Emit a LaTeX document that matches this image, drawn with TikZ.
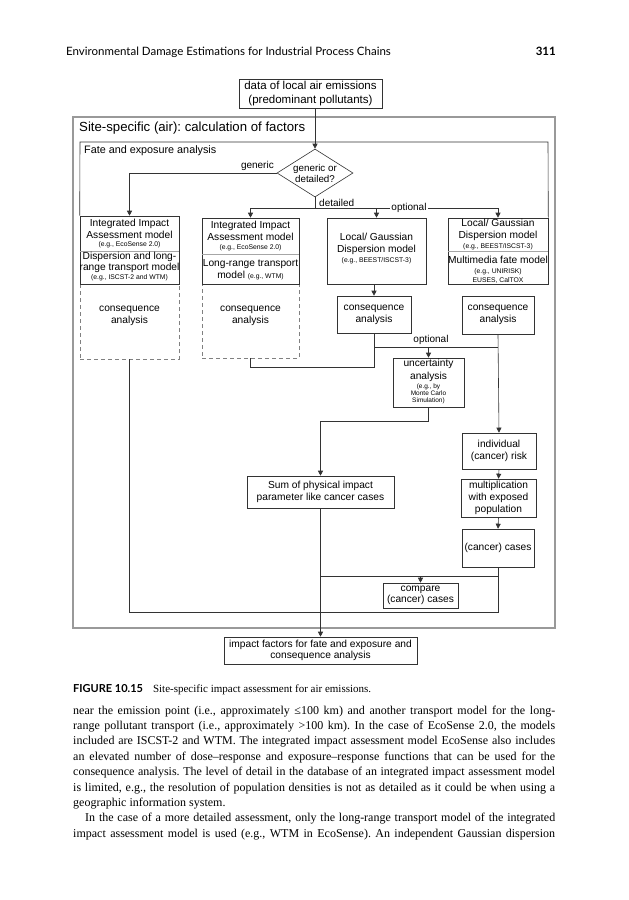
\documentclass[tikz,border=0pt]{standalone}
\usepackage{fontspec}
\setmainfont{Liberation Serif}
\newfontfamily\dfont{Liberation Sans}
\newfontfamily\hfont{Lato}
\usetikzlibrary{shapes.geometric,arrows.meta}
\newcommand{\fs}[2]{\fontsize{#1}{#2}\selectfont}
\newcommand{\smallf}{\fontsize{6.8}{8}\selectfont}
\frenchspacing
\begin{document}
\begin{tikzpicture}[x=1pt,y=-1pt,
  ln/.style={draw=black!80,line width=0.6pt},
  arr/.style={ln,-{Triangle[length=5pt,width=5pt]}},
  bx/.style={draw=black!80,line width=0.6pt,inner sep=0pt,align=center,font=\dfont\fs{10.2}{12}},
  dbx/.style={draw=black!50,line width=0.6pt,dash pattern=on 4pt off 3pt,inner sep=0pt},
  divl/.style={draw=black!35,line width=1.4pt},
  tx/.style={inner sep=0pt,align=center,font=\dfont\fs{10.2}{12}},
  sm/.style={inner sep=0pt,align=center,font=\dfont\fs{6.8}{8}},
  lbl/.style={inner sep=1pt,font=\dfont\fs{10}{12}},
  dia/.style={shape=diamond,draw=black!80,line width=0.6pt,inner sep=0pt,aspect=1.6,
     minimum width=76pt,minimum height=48pt,align=center,font=\dfont\fs{9.8}{11}}
]
\useasboundingbox (0,0) rectangle (629,900);
\fill[white] (0,0) rectangle (629,900);

% page header
\node[anchor=base west,inner sep=0pt,font=\hfont\fs{11.5}{13}] (hd) at (66,55) {Environmental Damage Estimations for Industrial Process Chains};
\node[anchor=base east,inner sep=0pt,font=\hfont\bfseries\fs{11.5}{13}] (pg) at (556,55) {311};

% frames
\node[draw=black!40,line width=1.4pt,minimum width=482pt,minimum height=511pt,inner sep=0pt] (outer) at (314,372.5) {};
\node[anchor=west,inner sep=0pt,font=\dfont\fs{13.2}{15}] (site) at (79,128) {Site-specific (air): calculation of factors};

\node[bx,minimum width=143pt,minimum height=29pt,font=\dfont\fs{11.5}{13.5}] (data) at (310.5,93.5) {data of local air emissions\\(predominant pollutants)};

% consequence (dashed) first so solid boxes lie on top
\node[dbx,minimum width=99pt,minimum height=75pt] (consA) at (129.5,321.5) {};
\node[dbx,minimum width=97pt,minimum height=74pt] (consB) at (250.5,321) {};
\node[tx] (tcA) at (129.5,316) {consequence\\analysis};
\node[tx] (tcB) at (250.5,316) {consequence\\analysis};

% model boxes
\node[bx,minimum width=99pt,minimum height=35pt] (A1) at (129.5,233.5) {};
\node[bx,minimum width=99pt,minimum height=33pt] (A2) at (129.5,267.5) {};
\node[bx,minimum width=97pt,minimum height=36pt] (B1) at (250.5,236) {};
\node[bx,minimum width=97pt,minimum height=30pt] (B2) at (250.5,269) {};
\node[bx,minimum width=99pt,minimum height=66pt] (C) at (376.5,251) {};
\node[bx,minimum width=100pt,minimum height=33pt] (D1) at (498,234.5) {};
\node[bx,minimum width=100pt,minimum height=33pt] (D2) at (498,267.5) {};
\draw[divl] (A1.south west) -- (A1.south east);
\draw[divl] (B1.south west) -- (B1.south east);
\draw[divl] (D1.south west) -- (D1.south east);

\node[tx] (tA1) at (129.5,229) {Integrated Impact\\Assessment model};
\node[sm] (sA1) at (129.5,244.5) {(e.g., EcoSense 2.0)};
\node[tx,font=\dfont\fs{10.2}{10.8}] (tA2) at (129.5,262) {Dispersion and long-\\range transport model};
\node[sm] (sA2) at (129.5,277.5) {(e.g., ISCST-2 and WTM)};
\node[tx] (tB1) at (250.5,231) {Integrated Impact\\Assessment model};
\node[sm] (sB1) at (250.5,247.5) {(e.g., EcoSense 2.0)};
\node[tx] (tB2) at (250.5,270) {Long-range transport\\model {\smallf (e.g., WTM)}};
\node[tx] (tC) at (376.5,244) {Local/ Gaussian\\Dispersion model};
\node[sm] (sC) at (376.5,260.5) {(e.g., BEEST/ISCST-3)};
\node[tx] (tD1) at (498,230) {Local/ Gaussian\\Dispersion model};
\node[sm] (sD1) at (498,246.5) {(e.g., BEEST/ISCST-3)};
\node[tx] (tD2) at (498,260) {Multimedia fate model};
\node[sm,font=\dfont\fs{6.8}{9}] (sD2) at (498,276) {(e.g., UNIRISK)\\EUSES, CalTOX};

% inner frame
\draw[ln] (A1.north west) -- (80,142) -- (548,142) -- (D1.north east);
\node[anchor=west,inner sep=0pt,font=\dfont\fs{10.8}{12}] (fate) at (84,151) {Fate and exposure analysis};

% decision
\node[dia] (dia) at (315,173) {generic or\\detailed?};
\draw[arr] (data.south -| dia.north) -- (dia.north);
\draw[arr] (dia.west) -| (A1.north);
\node[lbl,anchor=south east] (genl) at (275,172) {generic};
\coordinate (det) at (315,208);
\draw[ln] (dia.south) -- (det);
\draw[ln] (B1.north |- det) -- (D1.north |- det);
\draw[arr] (B1.north |- det) -- (B1.north);
\draw[arr] (C.north |- det) -- (C.north);
\draw[arr] (D1.north |- det) -- (D1.north);
\node[lbl,anchor=south west] (detl) at (318,208) {detailed};
\node[lbl,fill=white,inner sep=1.5pt] (optl) at (409,208) {optional};

% consequence boxes
\node[bx,minimum width=74pt,minimum height=37pt] (consC) at (374,314.5) {consequence\\analysis};
\node[bx,minimum width=72pt,minimum height=38pt] (consD) at (498,315) {consequence\\analysis};
\draw[arr] (C.south -| consC.north) -- (consC.north);

% lower boxes
\node[bx,minimum width=71pt,minimum height=49pt] (unc) at (428.5,382.5) {};
\node[tx,font=\dfont\fs{10.2}{13}] (tU) at (428.5,370.5) {uncertainty\\analysis};
\node[sm,font=\dfont\fs{6.5}{7}] (sU) at (428.5,394) {(e.g., by\\Monte Carlo\\Simulation)};
\node[bx,minimum width=74pt,minimum height=36pt] (ind) at (499,451) {individual\\(cancer) risk};
\node[bx,minimum width=75pt,minimum height=38pt] (mult) at (498.5,498) {multiplication\\with exposed\\population};
\node[bx,minimum width=72pt,minimum height=38pt] (cases) at (498,548) {(cancer) cases};
\node[bx,minimum width=147pt,minimum height=32pt] (sum) at (320.5,492) {Sum of physical impact\\parameter like cancer cases};
\node[bx,minimum width=75pt,minimum height=25pt,font=\dfont\fs{10.2}{11.5}] (cmp) at (420.5,595.5) {compare\\(cancer) cases};
\node[bx,minimum width=193pt,minimum height=27pt,font=\dfont\fs{10.2}{11.5}] (imp) at (320.5,650.5) {impact factors for fate and exposure and\\consequence analysis};

% connectors
\coordinate (yb) at (0,612);
\coordinate (yo) at (0,347);
\coordinate (yu) at (0,421);
\coordinate (yc) at (0,576);
\draw[ln] (consA.south) |- (cases.south |- yb) -- (cases.south);
\draw[ln] (consB.south) -- ++(0,9) -| (consC.south);
\draw[ln] (consC.south |- yo) -- (consD.south |- yo);
\node[lbl,anchor=south] (optl2) at (431,346) {optional};
\draw[arr] (unc.north |- yo) -- (unc.north);
\draw[arr] (consD.south) -- (ind.north);
\draw[arr] (ind.south) -- (mult.north);
\draw[arr] (mult.south) -- (cases.north);
\draw[arr] (unc.south) |- (sum.north |- yu) -- (sum.north);
\draw[ln] (sum.south |- yc) -- (cases.south |- yc);
\draw[arr] (cmp.north |- yc) -- (cmp.north);
\draw[arr] (sum.south) -- (imp.north);

% caption and text
\node[anchor=base west,inner sep=0pt] (cap) at (73,692) {{\hfont\bfseries\fs{11}{12}FIGURE 10.15}\hspace{10pt}{\fs{11}{12}Site-specific impact assessment for air emissions.}};
\node[anchor=north west,inner sep=0pt,text width=482pt,align=justify,font=\fs{12}{15.4}] (body) at (73,705.5) {%
near the emission point (i.e., approximately ≤100 km) and another transport model for the long-\linebreak
range pollutant transport (i.e., approximately >100 km). In the case of EcoSense 2.0, the models\linebreak
included are ISCST-2 and WTM. The integrated impact assessment model EcoSense also includes\linebreak
an elevated number of dose–response and exposure–response functions that can be used for the\linebreak
consequence analysis. The level of detail in the database of an integrated impact assessment model\linebreak
is limited, e.g., the resolution of population densities is not as detailed as it could be when using a\linebreak
geographic information system.\par
\hspace*{12pt}In the case of a more detailed assessment, only the long-range transport model of the integrated\linebreak
impact assessment model is used (e.g., WTM in EcoSense). An independent Gaussian dispersion\parfillskip=0pt\par};
\end{tikzpicture}
\end{document}
